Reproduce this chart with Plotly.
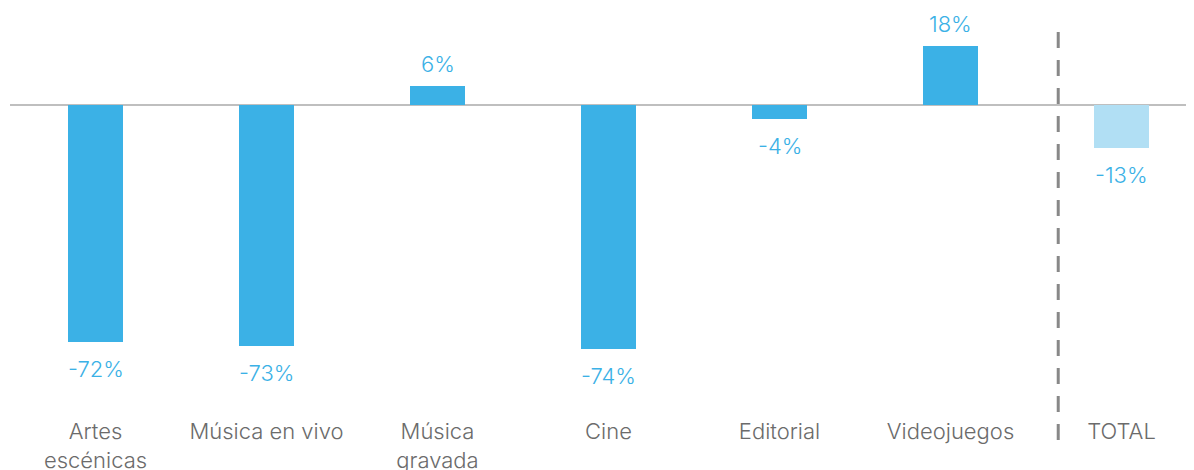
import plotly.graph_objects as go

categories = ["Artes<br>escénicas", "Música en vivo", "Música<br>gravada", "Cine",
              "Editorial", "Videojuegos", "TOTAL"]
values = [-72, -73, 6, -74, -4, 18, -13]
labels = ["-72%", "-73%", "6%", "-74%", "-4%", "18%", "-13%"]

BLUE = "#3bb1e6"
LIGHT_BLUE = "#b1dff4"
FONT = "Inter"

x = list(range(len(categories)))
colors = [LIGHT_BLUE if c == "TOTAL" else BLUE for c in categories]

fig = go.Figure()
fig.add_trace(go.Bar(
    x=x, y=values,
    marker_color=colors,
    marker_line_width=0,
    width=0.316,
    hoverinfo="skip",
))

for xi, v, t in zip(x, values, labels):
    fig.add_annotation(
        x=xi, y=v, text=t, showarrow=False,
        yanchor="middle",
        yshift=22 if v >= 0 else -27,
        font=dict(family=FONT, size=22, color=BLUE, weight=300),
    )

# separator before TOTAL
fig.add_shape(
    type="line", xref="x", yref="paper",
    x0=5.63, x1=5.63, y0=0.941, y1=-0.059,
    line=dict(color="#888888", width=3, dash="16px,12px"),
)

fig.update_layout(
    width=1186, height=462,
    paper_bgcolor="white", plot_bgcolor="white",
    margin=dict(l=2, r=0, t=0, b=54),
    showlegend=False,
    bargap=0,
    xaxis=dict(
        range=[-0.5, 6.424],
        tickvals=x, ticktext=categories,
        showgrid=False, zeroline=False, showline=False,
        ticks="", fixedrange=True, automargin=False,
        tickfont=dict(family=FONT, size=22, color="#6b6b6b", weight=300),
    ),
    yaxis=dict(
        range=[-94.4, 29.64],
        showgrid=False, showticklabels=False,
        zeroline=True, zerolinecolor="#bfbfbf", zerolinewidth=2,
        fixedrange=True, automargin=False,
    ),
)

fig.write_html("out.html")
